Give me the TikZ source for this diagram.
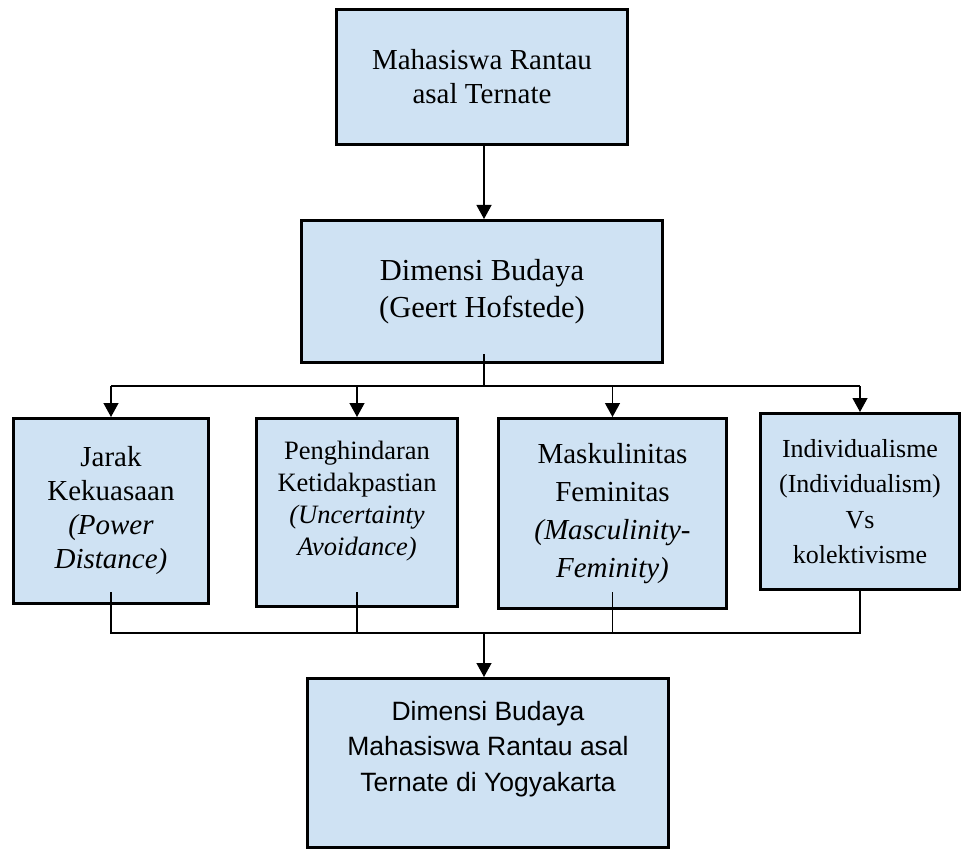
\documentclass[tikz,border=0pt]{standalone}
\usepackage{fontspec}
\setmainfont{Liberation Serif}
\newfontfamily\arialfont{Liberation Sans}
\usetikzlibrary{arrows.meta,calc}
\definecolor{boxfill}{HTML}{CFE2F3}
\tikzset{
  boxnode/.style={draw=black, line width=3pt, fill=boxfill, rectangle, inner sep=0pt},
  txt/.style={align=center, inner sep=0pt},
  conn/.style={draw=black, line width=1.3pt},
  arr/.style={conn, -{Triangle[width=15pt,length=14pt]}}
}
\begin{document}
\begin{tikzpicture}[x=1pt,y=-1pt]
\useasboundingbox (0,0) rectangle (961,850);
% boxes
\node[boxnode, minimum width=291pt, minimum height=135pt] (b1) at (482,77) {};
\node[boxnode, minimum width=361pt, minimum height=142pt] (b2) at (482,291.5) {};
\node[boxnode, minimum width=195pt, minimum height=185pt] (j) at (111,511) {};
\node[boxnode, minimum width=201pt, minimum height=188pt] (p) at (357,512.5) {};
\node[boxnode, minimum width=228pt, minimum height=190pt] (m) at (612.5,513.5) {};
\node[boxnode, minimum width=199pt, minimum height=176pt] (i) at (860,501.5) {};
\node[boxnode, minimum width=361pt, minimum height=169pt] (b3) at (488,763) {};
% texts
\node[txt, font=\fontsize{29}{34}\selectfont] (t1) at (b1.center) {Mahasiswa Rantau\\asal Ternate};
\node[txt, font=\fontsize{30.5}{37}\selectfont] (t2) at (b2.center) {Dimensi Budaya\\(Geert Hofstede)};
\node[txt, font=\fontsize{29}{34}\selectfont] (tj) at (j.center) {Jarak\\Kekuasaan\\\textit{(Power}\\\textit{Distance)}};
\node[txt, font=\fontsize{26.5}{32}\selectfont] (tp) at ([yshift=11pt]p.center) {Penghindaran\\Ketidakpastian\\\textit{(Uncertainty}\\\textit{Avoidance)}};
\node[txt, font=\fontsize{29}{38}\selectfont] (tm) at (m.center) {Maskulinitas\\Feminitas\\\textit{(Masculinity-}\\\textit{Feminity)}};
\node[txt, font=\fontsize{26}{35.5}\selectfont] (ti) at (i.center) {Individualisme\\(Individualism)\\Vs\\kolektivisme};
\node[txt, font=\arialfont\fontsize{26.5}{35.5}\selectfont] (t3) at ([yshift=14pt]b3.center) {Dimensi Budaya\\Mahasiswa Rantau asal\\Ternate di Yogyakarta};
% connector coordinates
\coordinate (s2) at (484,354);
\coordinate (bus1) at (484,386);
\coordinate (s3) at (0,592);
\coordinate (bus2) at (484,633);
% connectors
\draw[arr] (b1.south -| bus1) -- (b2.north -| bus1);
\draw[conn] (s2) -- (bus1);
\draw[conn] (j.north |- bus1) -- (i.north |- bus1);
\draw[arr] (j.north |- bus1) -- (j.north);
\draw[arr] (p.north |- bus1) -- (p.north);
\draw[arr] (m.north |- bus1) -- (m.north);
\draw[arr] (i.north |- bus1) -- (i.north);
\draw[conn] (j.south |- s3) -- (j.south |- bus2) -- (i.south |- bus2) -- (i.south);
\draw[conn] (p.south |- s3) -- (p.south |- bus2);
\draw[conn] (m.south |- s3) -- (m.south |- bus2);
\draw[arr] (bus2) -- (b3.north -| bus2);
\end{tikzpicture}
\end{document}
